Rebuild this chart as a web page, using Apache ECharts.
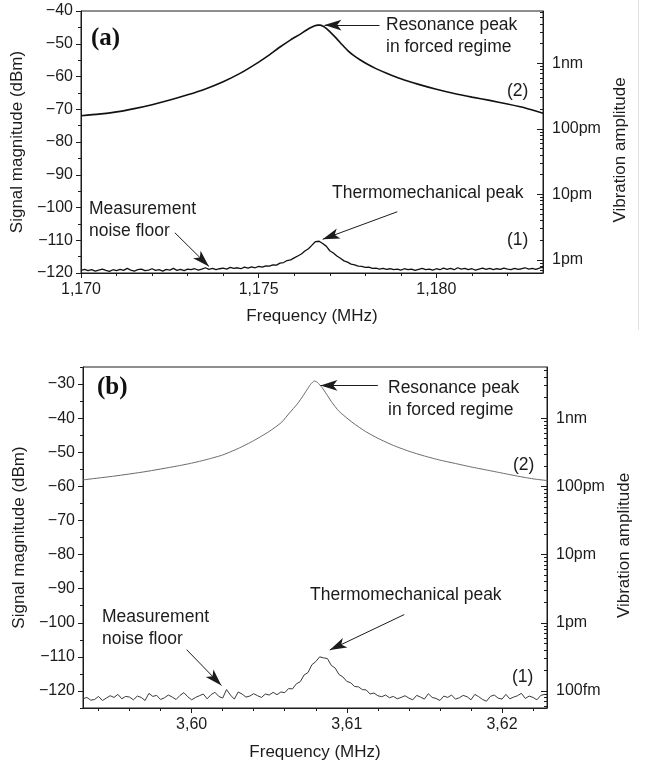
<!DOCTYPE html>
<html><head><meta charset="utf-8">
<script src="https://cdn.jsdelivr.net/npm/echarts@6/dist/echarts.min.js"></script>
<style>html,body{margin:0;padding:0;background:#fff}#c{width:647px;height:765px}</style>
</head><body><div id="c"></div>
<script>
// ---------- data: panel (a) ----------
const forcedA = [[1170.0,-72.0],[1170.5,-71.5],[1171.0,-70.8],[1171.5,-69.8],[1172.0,-68.6],[1172.5,-67.2],[1173.0,-65.6],[1173.5,-63.8],[1174.0,-61.6],[1174.5,-58.9],[1175.0,-55.6],[1175.3,-53.4],[1175.6,-51.0],[1175.9,-48.8],[1176.15,-47.2],[1176.35,-45.8],[1176.5,-44.9],[1176.58,-44.5],[1176.66,-44.3],[1176.73,-44.3],[1176.8,-44.6],[1176.9,-45.3],[1177.0,-46.3],[1177.2,-48.5],[1177.35,-50.3],[1177.5,-52.0],[1177.66,-53.5],[1177.85,-54.9],[1178.05,-56.2],[1178.3,-57.6],[1178.6,-59.0],[1179.0,-60.7],[1179.5,-62.4],[1180.0,-63.9],[1180.5,-65.2],[1181.0,-66.3],[1181.5,-67.3],[1182.0,-68.4],[1182.5,-69.6],[1183.0,-71.2]];
const thermoA = [[1170.0,-119.2],[1170.1,-118.9],[1170.2,-119.3],[1170.3,-119.0],[1170.4,-119.4],[1170.5,-119.1],[1170.6,-118.8],[1170.7,-119.2],[1170.8,-119.5],[1170.9,-119.0],
[1171.0,-119.3],[1171.1,-118.9],[1171.2,-119.2],[1171.3,-118.6],[1171.4,-119.1],[1171.5,-119.4],[1171.6,-119.0],[1171.7,-118.8],[1171.8,-119.3],[1171.9,-119.1],
[1172.0,-118.7],[1172.1,-119.2],[1172.2,-119.0],[1172.3,-119.4],[1172.4,-118.9],[1172.5,-119.1],[1172.6,-118.6],[1172.7,-119.2],[1172.8,-118.9],[1172.9,-119.3],
[1173.0,-118.8],[1173.1,-119.0],[1173.2,-118.7],[1173.3,-119.1],[1173.4,-118.8],[1173.5,-118.4],[1173.6,-118.9],[1173.7,-118.6],[1173.8,-119.0],[1173.9,-118.7],
[1174.0,-118.5],[1174.1,-118.8],[1174.2,-118.3],[1174.3,-118.6],[1174.4,-118.4],[1174.5,-118.7],[1174.6,-118.2],[1174.7,-118.5],[1174.8,-118.1],[1174.9,-118.4],
[1175.0,-118.0],[1175.1,-118.2],[1175.2,-117.8],[1175.3,-117.9],[1175.4,-117.5],[1175.5,-117.6],[1175.6,-117.0],[1175.7,-116.8],[1175.8,-116.2],[1175.9,-116.0],
[1176.0,-115.4],[1176.1,-114.8],[1176.2,-114.2],[1176.3,-113.3],[1176.4,-112.6],[1176.5,-111.5],[1176.6,-110.4],[1176.65,-109.9],[1176.7,-110.3],[1176.8,-111.0],[1176.9,-111.8],
[1177.0,-113.2],[1177.1,-113.9],[1177.2,-114.8],[1177.3,-115.5],[1177.4,-116.3],[1177.5,-116.7],[1177.6,-117.3],[1177.7,-117.5],[1177.8,-117.9],[1177.9,-118.0],
[1178.0,-118.3],[1178.1,-118.2],[1178.2,-118.6],[1178.3,-118.5],[1178.4,-118.8],[1178.5,-118.6],[1178.6,-118.9],[1178.7,-118.7],[1178.8,-119.0],[1178.9,-118.8],
[1179.0,-119.1],[1179.1,-118.7],[1179.2,-119.0],[1179.3,-118.8],[1179.4,-119.2],[1179.5,-118.9],[1179.6,-118.6],[1179.7,-119.0],[1179.8,-118.8],[1179.9,-119.1],
[1180.0,-118.7],[1180.1,-119.0],[1180.2,-118.5],[1180.3,-118.9],[1180.4,-118.6],[1180.5,-119.0],[1180.6,-118.4],[1180.7,-118.8],[1180.8,-118.6],[1180.9,-119.0],
[1181.0,-118.7],[1181.1,-119.1],[1181.2,-118.8],[1181.3,-118.5],[1181.4,-118.9],[1181.5,-118.6],[1181.6,-119.0],[1181.7,-118.7],[1181.8,-118.9],[1181.9,-118.5],
[1182.0,-118.8],[1182.1,-119.0],[1182.2,-118.6],[1182.3,-118.9],[1182.4,-118.7],[1182.5,-118.4],[1182.6,-118.8],[1182.7,-118.6],[1182.8,-118.9],[1182.9,-118.5],[1183.0,-118.2]];

// ---------- data: panel (b) ----------
const forcedB = [[3.5930,-58.1],[3.5950,-57.0],[3.5970,-55.7],[3.5990,-54.1],[3.6000,-53.2],[3.6010,-52.1],[3.6020,-50.8],[3.6030,-48.9],[3.6040,-46.6],[3.6050,-43.9],[3.6058,-41.2],[3.6063,-38.5],[3.6068,-35.9],[3.6072,-33.3],[3.6075,-31.2],[3.6077,-29.9],[3.6079,-29.1],[3.6081,-29.5],[3.6084,-31.0],[3.6087,-33.0],[3.6090,-35.1],[3.6095,-38.0],[3.6104,-41.4],[3.6112,-43.9],[3.6120,-45.9],[3.6130,-48.0],[3.6140,-49.7],[3.6150,-51.1],[3.6160,-52.3],[3.6170,-53.3],[3.6180,-54.3],[3.6190,-55.2],[3.6200,-56.1],[3.6210,-57.0],[3.6220,-57.8],[3.6229,-58.3]];
const thermoB = [[3.59300,-122.3],[3.59325,-121.9],[3.59350,-122.7],[3.59375,-122.5],[3.59400,-121.6],[3.59425,-122.8],[3.59450,-122.1],[3.59475,-121.4],[3.59500,-121.9],[3.59525,-121.0],
[3.59550,-122.3],[3.59575,-121.6],[3.59600,-121.8],[3.59625,-122.6],[3.59650,-121.5],[3.59675,-121.9],[3.59700,-122.8],[3.59725,-120.7],[3.59750,-121.6],[3.59775,-121.3],
[3.59800,-122.5],[3.59825,-122.0],[3.59850,-121.2],[3.59875,-121.8],[3.59900,-122.5],[3.59925,-121.3],[3.59950,-120.5],[3.59975,-121.7],[3.60000,-122.6],[3.60025,-121.9],
[3.60050,-121.4],[3.60075,-120.9],[3.60100,-122.3],[3.60125,-121.1],[3.60150,-120.4],[3.60175,-121.6],[3.60200,-122.1],[3.60225,-119.6],[3.60250,-121.2],[3.60275,-122.4],
[3.60300,-120.3],[3.60325,-120.9],[3.60350,-121.8],[3.60375,-121.5],[3.60400,-120.8],[3.60425,-121.4],[3.60450,-121.9],[3.60475,-120.9],[3.60500,-121.2],[3.60525,-120.4],
[3.60550,-121.1],[3.60575,-120.3],[3.60600,-120.5],[3.60625,-119.3],[3.60650,-119.4],[3.60675,-117.9],[3.60700,-117.3],[3.60725,-115.3],[3.60750,-114.6],[3.60775,-112.3],
[3.60800,-111.4],[3.60825,-110.0],[3.60850,-110.3],[3.60875,-110.5],[3.60900,-112.5],[3.60925,-113.3],[3.60950,-115.2],[3.60975,-115.9],[3.61000,-117.2],[3.61025,-117.6],
[3.61050,-118.7],[3.61075,-118.8],[3.61100,-119.6],[3.61125,-119.7],[3.61150,-120.9],[3.61175,-120.6],[3.61200,-121.4],[3.61225,-121.7],[3.61250,-121.2],[3.61275,-122.0],
[3.61300,-121.6],[3.61325,-122.3],[3.61350,-121.9],[3.61375,-121.4],[3.61400,-122.1],[3.61425,-122.6],[3.61450,-121.3],[3.61475,-121.8],[3.61500,-122.4],[3.61525,-120.8],
[3.61550,-121.9],[3.61575,-122.2],[3.61600,-122.8],[3.61625,-121.5],[3.61650,-121.9],[3.61675,-121.2],[3.61700,-122.4],[3.61725,-122.0],[3.61750,-121.3],[3.61775,-121.7],
[3.61800,-122.6],[3.61825,-121.0],[3.61850,-121.7],[3.61875,-122.5],[3.61900,-123.0],[3.61925,-121.6],[3.61950,-121.2],[3.61975,-122.1],[3.62000,-122.4],[3.62025,-121.0],
[3.62050,-122.3],[3.62075,-121.8],[3.62100,-121.4],[3.62125,-120.7],[3.62150,-122.2],[3.62175,-121.5],[3.62200,-121.9],[3.62225,-122.6],[3.62250,-121.3],[3.62275,-121.0]];

// ---------- ticks / labels ----------
const xTicksA = [1170, 1175, 1180];
const xMinorA = [1171, 1172, 1173, 1174, 1176, 1177, 1178, 1179, 1181, 1182];
const yTicksA = [-120, -110, -100, -90, -80, -70, -60, -50, -40];
const yMinorA = [-115, -105, -95, -85, -75, -65, -55, -45];
const ampLabelsA = ['1pm', '10pm', '100pm', '1nm'];
const ampDbA = [-116, -96, -76, -56];
const ampDecadeRefsA = [-136, -116, -96, -76, -56];

const xTicksB = [3.60, 3.61, 3.62];
const xMinorB = [3.594, 3.596, 3.598, 3.602, 3.604, 3.606, 3.608, 3.612, 3.614, 3.616, 3.618, 3.622];
const yTicksB = [-120, -110, -100, -90, -80, -70, -60, -50, -40, -30];
const yMinorB = [-125, -115, -105, -95, -85, -75, -65, -55, -45, -35, -25];
const ampLabelsB = ['100fm', '1pm', '10pm', '100pm', '1nm'];
const ampDbB = [-120, -100, -80, -60, -40];
const ampDecadeRefsB = [-140, -120, -100, -80, -60, -40];

// ---------- styling ----------
const FONT = 'Liberation Sans';
const INK = '#1c1c1c';
const TICK_FS = 16;
const NAME_FS = 17;
const NOTE_FS = 17.5;

function logMinor(refs, lo, hi) {
  const out = [];
  refs.forEach(r => { for (let k = 2; k <= 9; k++) { const v = r + 20 * Math.log10(k); if (v > lo + 0.05 && v < hi - 0.05) out.push(+v.toFixed(3)); } });
  return out;
}
function lookup(vals, labels) { const m = {}; vals.forEach((v, i) => m[v] = labels[i]); return v => (m[v] !== undefined ? m[v] : ''); }
const fmtMinus = v => String(v).replace('-', '\u2212');

function xMajor(grid, min, max, ticks, fmt, nameGap) {
  return { type: 'value', gridIndex: grid, min, max, position: 'bottom',
    axisLine: { show: true, onZero: false, lineStyle: { color: INK, width: 1 } },
    axisTick: { show: true, customValues: ticks, length: 5, lineStyle: { color: INK, width: 1 } },
    axisLabel: { customValues: ticks, formatter: fmt, fontFamily: FONT, fontSize: TICK_FS, color: INK, margin: 9 },
    splitLine: { show: false },
    name: 'Frequency (MHz)', nameLocation: 'middle', nameGap,
    nameTextStyle: { fontFamily: FONT, fontSize: NAME_FS, color: INK } };
}
function xMinorAx(grid, min, max, ticks) {
  return { type: 'value', gridIndex: grid, min, max, position: 'bottom',
    axisLine: { show: false, onZero: false },
    axisTick: { show: true, customValues: ticks, length: 3, lineStyle: { color: INK, width: 1 } },
    axisLabel: { show: false }, splitLine: { show: false } };
}
function yLeft(grid, min, max, ticks, nameGap) {
  return { type: 'value', gridIndex: grid, min, max, position: 'left',
    axisLine: { show: true, onZero: false, lineStyle: { color: INK, width: 1 } },
    axisTick: { show: true, customValues: ticks, length: 5, lineStyle: { color: INK, width: 1 } },
    axisLabel: { customValues: ticks, formatter: fmtMinus, fontFamily: FONT, fontSize: TICK_FS, color: INK, margin: 8 },
    splitLine: { show: false },
    name: 'Signal magnitude (dBm)', nameLocation: 'middle', nameGap, nameRotate: 90,
    nameTextStyle: { fontFamily: FONT, fontSize: NAME_FS, color: INK } };
}
function yLeftMinor(grid, min, max, ticks) {
  return { type: 'value', gridIndex: grid, min, max, position: 'left',
    axisLine: { show: false, onZero: false },
    axisTick: { show: true, customValues: ticks, length: 3, lineStyle: { color: INK, width: 1 } },
    axisLabel: { show: false }, splitLine: { show: false } };
}
function yRight(grid, min, max, dbs, labels, nameGap) {
  return { type: 'value', gridIndex: grid, min, max, position: 'right',
    axisLine: { show: true, onZero: false, lineStyle: { color: INK, width: 1 } },
    axisTick: { show: true, inside: true, customValues: dbs, length: 6, lineStyle: { color: INK, width: 1 } },
    axisLabel: { customValues: dbs, formatter: lookup(dbs, labels), fontFamily: FONT, fontSize: TICK_FS, color: INK, margin: 9 },
    splitLine: { show: false },
    name: 'Vibration amplitude', nameLocation: 'middle', nameGap, nameRotate: 90,
    nameTextStyle: { fontFamily: FONT, fontSize: NAME_FS, color: INK, padding: [0, 16, 0, 0] } };
}
function yRightMinor(grid, min, max, ticks) {
  return { type: 'value', gridIndex: grid, min, max, position: 'right',
    axisLine: { show: false, onZero: false },
    axisTick: { show: true, inside: true, customValues: ticks, length: 3, lineStyle: { color: INK, width: 1 } },
    axisLabel: { show: false }, splitLine: { show: false } };
}
function arrow(x1, y1, x2, y2) { return [{ coord: [x1, y1] }, { coord: [x2, y2] }]; }
function txt(x, y, text, size, serif) {
  return { type: 'text', x, y, silent: true,
    style: { text, fontFamily: serif ? 'Liberation Serif' : FONT, fontWeight: serif ? 'bold' : 'normal',
      fontSize: size, fill: serif ? '#111' : INK, align: 'left', verticalAlign: 'middle' } };
}
const markStyle = { symbol: ['none', 'arrow'], symbolSize: [8, 17], silent: true, animation: false,
  label: { show: false }, lineStyle: { color: INK, width: 1, type: 'solid' }, emphasis: { disabled: true } };

const fmtA = v => v.toLocaleString('en-US');
const fmtB = v => v.toFixed(2).replace('.', ',');

const chart = echarts.init(document.getElementById('c'), null, { renderer: 'canvas' });
chart.setOption({
  backgroundColor: '#fff',
  animation: false,
  grid: [
    { left: 81, top: 11, width: 462, height: 262, show: true, borderColor: INK, borderWidth: 1, containLabel: false },
    { left: 83, top: 367, width: 464, height: 341, show: true, borderColor: INK, borderWidth: 1, containLabel: false }
  ],
  xAxis: [
    xMajor(0, 1170, 1183, xTicksA, fmtA, 35),
    xMinorAx(0, 1170, 1183, xMinorA),
    xMajor(1, 3.593, 3.6229, xTicksB, fmtB, 36),
    xMinorAx(1, 3.593, 3.6229, xMinorB)
  ],
  yAxis: [
    yLeft(0, -120, -40, yTicksA, 48),
    yLeftMinor(0, -120, -40, yMinorA),
    yRight(0, -120, -40, ampDbA, ampLabelsA, 63),
    yRightMinor(0, -120, -40, logMinor(ampDecadeRefsA, -120, -40)),
    yLeft(1, -125, -25, yTicksB, 50),
    yLeftMinor(1, -125, -25, yMinorB),
    yRight(1, -125, -25, ampDbB, ampLabelsB, 59),
    yRightMinor(1, -125, -25, logMinor(ampDecadeRefsB, -125, -25))
  ],
  series: [
    { name: '(2) a', type: 'line', xAxisIndex: 0, yAxisIndex: 0, data: forcedA, showSymbol: false, smooth: 0.2,
      lineStyle: { color: '#111', width: 1.6 },
      markLine: Object.assign({ data: [arrow(1178.4, -44.3, 1176.85, -44.3)] }, markStyle) },
    { name: '(1) a', type: 'line', xAxisIndex: 0, yAxisIndex: 0, data: thermoA, showSymbol: false,
      lineStyle: { color: '#111', width: 1.3 },
      markLine: Object.assign({ data: [arrow(1178.9, -101.3, 1176.8, -109.7), arrow(1172.64, -107.7, 1173.6, -118.0)] }, markStyle) },
    { name: '(2) b', type: 'line', xAxisIndex: 2, yAxisIndex: 4, data: forcedB, showSymbol: false, smooth: 0.2,
      lineStyle: { color: '#6a6a6a', width: 1 },
      markLine: Object.assign({ data: [arrow(3.6120, -30.4, 3.6083, -30.4)] }, markStyle) },
    { name: '(1) b', type: 'line', xAxisIndex: 2, yAxisIndex: 4, data: thermoB, showSymbol: false,
      lineStyle: { color: '#3a3a3a', width: 1 },
      markLine: Object.assign({ data: [arrow(3.6137, -97.6, 3.6089, -108.0), arrow(3.59968, -107.9, 3.60192, -118.4)] }, markStyle) }
  ],
  graphic: [
    { type: 'line', silent: true, shape: { x1: 638.5, y1: 0, x2: 638.5, y2: 330 }, style: { stroke: '#e2e2e2', lineWidth: 1 } },
    txt(91, 39, '(a)', 25, true),
    txt(386, 25, 'Resonance peak', NOTE_FS),
    txt(386, 47, 'in forced regime', NOTE_FS),
    txt(507, 91, '(2)', NOTE_FS),
    txt(332, 193, 'Thermomechanical peak', NOTE_FS),
    txt(507, 240, '(1)', NOTE_FS),
    txt(89, 209, 'Measurement', NOTE_FS),
    txt(89, 231, 'noise floor', NOTE_FS),
    txt(97, 388, '(b)', 25, true),
    txt(388, 388, 'Resonance peak', NOTE_FS),
    txt(388, 410, 'in forced regime', NOTE_FS),
    txt(513, 465, '(2)', NOTE_FS),
    txt(310, 595, 'Thermomechanical peak', NOTE_FS),
    txt(512, 677, '(1)', NOTE_FS),
    txt(102, 617, 'Measurement', NOTE_FS),
    txt(102, 639, 'noise floor', NOTE_FS)
  ]
});
</script></body></html>
